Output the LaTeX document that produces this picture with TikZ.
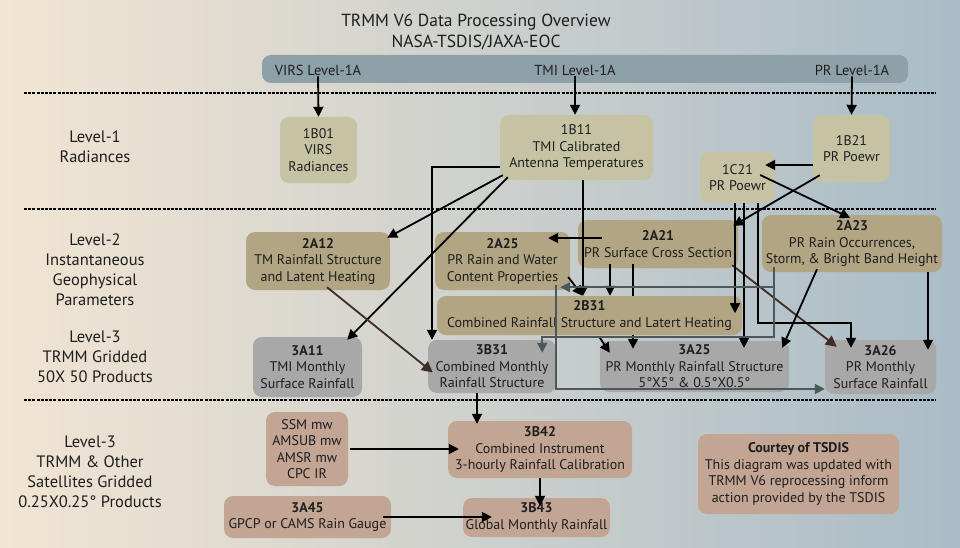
\documentclass[tikz,border=0pt]{standalone}
\usepackage{fontspec}
\setmainfont{PT Sans}
\usetikzlibrary{arrows.meta,calc}
\definecolor{bgL}{HTML}{F2E5D3}
\definecolor{bgR}{HTML}{A9BCC7}
\definecolor{bannerc}{HTML}{8EA1A9}
\definecolor{lvone}{HTML}{C6C3A5}
\definecolor{lvtwo}{HTML}{B2A583}
\definecolor{lvthree}{HTML}{A9A8A8}
\definecolor{lvfour}{HTML}{C3A594}
\definecolor{ink}{HTML}{1E1E1E}
\definecolor{slate}{HTML}{4D585D}
\definecolor{brownline}{HTML}{3E2C26}
\newcommand\boxfont{\fontsize{14}{16.5}\selectfont}
\newcommand\labfont{\fontsize{16.5}{20}\selectfont}
\newcommand\ttlfont{\fontsize{17.5}{21}\selectfont}
\tikzset{
  box/.style={rounded corners=9pt, draw=none, align=center, inner sep=0pt, font=\boxfont, text=ink},
  bone/.style={box, fill=lvone},
  btwo/.style={box, fill=lvtwo},
  bthree/.style={box, fill=lvthree},
  bfour/.style={box, fill=lvfour},
  lab/.style={align=center, font=\labfont, text=ink, inner sep=0pt},
  bantext/.style={font=\fontsize{14.5}{17}\selectfont, text=ink, inner sep=1pt},
  conn/.style={line width=1.8pt, draw=black, -{Triangle[length=10pt,width=10pt]}},
  plainline/.style={line width=1.8pt, draw=black},
  greyconn/.style={line width=1.8pt, draw=slate, -{Triangle[length=10pt,width=10pt]}},
  brownconn/.style={line width=1.8pt, draw=brownline, -{Triangle[length=11pt,width=11pt]}},
  sepline/.style={line width=1.5pt, draw=black, dash pattern=on 3pt off 1.2pt},
}
\begin{document}
\begin{tikzpicture}[x=1pt,y=-1pt]
\useasboundingbox (0,0) rectangle (960,548);
\shade[left color=bgL, right color=bgR] (0,0) rectangle (960,548);

% title
\node[lab, font=\ttlfont] (ttl) at (476,31.5) {TRMM V6 Data Processing Overview\\NASA-TSDIS/JAXA-EOC};

% banner
\node[box, fill=bannerc, minimum width=646pt, minimum height=28pt] (ban) at (585,69) {};
\node[bantext] (tVIRS) at (318,70) {VIRS Level-1A};
\node[bantext] (tTMI) at (575,70) {TMI Level-1A};
\node[bantext] (tPR) at (852,70) {PR Level-1A};

% separators
\draw[sepline] (24,93) -- (936,93);
\draw[sepline] (24,209) -- (936,209);
\draw[sepline] (24,400) -- (936,400);

% level labels
\node[lab] (l1) at (95,147) {Level-1\\Radiances};
\node[lab] (l2) at (95,270) {Level-2\\Instantaneous\\Geophysical\\Parameters};
\node[lab] (l3) at (95,357) {Level-3\\TRMM Gridded\\50X 50 Products};
\node[lab] (l4) at (90,472) {Level-3\\TRMM \& Other\\Satellites Gridded\\0.25X0.25° Products};

% level 1 boxes
\node[bone, minimum width=77pt, minimum height=66pt] (n1B01) at (318.5,150) {1B01\\VIRS\\Radiances};
\node[bone, minimum width=153pt, minimum height=65pt] (n1B11) at (576.5,147.5) {1B11\\TMI Calibrated\\Antenna Temperatures};
\node[bone, minimum width=77pt, minimum height=67pt] (n1B21) at (851.5,148.5) {1B21\\PR Poewr};
\node[bone, minimum width=75pt, minimum height=51pt] (n1C21) at (737.5,177.5) {1C21\\PR Poewr};

% level 2 boxes
\node[btwo, minimum width=144pt, minimum height=58pt] (n2A12) at (318,261) {\textbf{2A12}\\TM Rainfall Structure\\and Latent Heating};
\node[btwo, minimum width=135pt, minimum height=58pt] (n2A25) at (502.5,261) {\textbf{2A25}\\PR Rain and Water\\Content Properties};
\node[btwo, minimum width=160pt, minimum height=48pt] (n2A21) at (658,244) {\textbf{2A21}\\PR Surface Cross Section};
\node[btwo, minimum width=180pt, minimum height=57pt] (n2A23) at (852,243.5) {\textbf{2A23}\\PR Rain Occurrences,\\Storm, \& Bright Band Height};
\node[btwo, minimum width=305pt, minimum height=39pt] (n2B31) at (589.5,315.5) {\textbf{2B31}\\Combined Rainfall Structure and Latert Heating};

% level 3 boxes
\node[bthree, minimum width=109pt, minimum height=60pt] (n3A11) at (307.5,367) {\textbf{3A11}\\TMI Monthly\\Surface Rainfall};
\node[bthree, minimum width=128pt, minimum height=53pt] (n3B31) at (492,366.5) {\textbf{3B31}\\Combined Monthly\\Rainfall Structure};
\node[bthree, minimum width=189pt, minimum height=51pt] (n3A25) at (694.5,366.5) {\textbf{3A25}\\PR Monthly Rainfall Structure\\5°X5° \& 0.5°X0.5°};
\node[bthree, minimum width=111pt, minimum height=54pt] (n3A26) at (880.5,367) {\textbf{3A26}\\PR Monthly\\Surface Rainfall};

% bottom boxes
\node[bfour, minimum width=82pt, minimum height=74pt] (nSSM) at (307,449) {SSM mw\\AMSUB mw\\AMSR mw\\CPC IR};
\node[bfour, minimum width=184pt, minimum height=57pt] (n3B42) at (540,449.5) {\textbf{3B42}\\Combined Instrument\\3-hourly Rainfall Calibration};
\node[bfour, minimum width=167pt, minimum height=42pt] (n3A45) at (307.5,517) {\textbf{3A45}\\GPCP or CAMS Rain Gauge};
\node[bfour, minimum width=147pt, minimum height=39pt] (n3B43) at (536.5,517.5) {\textbf{3B43}\\Global Monthly Rainfall};
\node[bfour, minimum width=201pt, minimum height=80pt] (nCourt) at (798.5,474) {\textbf{Courtey of TSDIS}\\This diagram was updated with\\TRMM V6 reprocessing inform\\action provided by the TSDIS};

% connectors: banner -> level 1
\draw[conn] (tVIRS.south) -- (n1B01.north);
\draw[conn] (tTMI.south) -- (tTMI.south |- n1B11.north);
\draw[conn] (tPR.south) -- (n1B21.north);
\draw[conn] (n1B21.west |- 0,165) -- ($(n1C21.east |- 0,165)+(-10,0)$);

% from 1B11
\draw[conn] (n1B11.west |- 0,167) -| ($(n3B31.north)+(-60,0)$);
\draw[conn] ($(n1B11.south west)+(3,-5)$) -- ($(n2A12.north east)+(-3,6)$);
\draw[conn] ($(n1B11.south west)+(8,-3)$) -- ($(n3A11.north east)+(-15,3)$);
\draw[conn] (583,0 |- n1B11.south) -- (583,0 |- n2B31.north);

% from 2A21
\draw[conn] ($(n2A21.west |- 0,238)+(24,0)$) -- ($(n2A25.east |- 0,238)+(-22,0)$);
\draw[conn] ($(610,0 |- n2A21.south)+(0,-4)$) -- (610,0 |- n2B31.north);
\draw[plainline] ($(633,0 |- n2A21.south)+(0,-4)$) -- (633,0 |- n2B31.north);
\draw[brownconn] ($(n2A21.south east)+(-6,-3)$) -- ($(n3A26.north west)+(12,7)$);

% from 2B31
\draw[conn] (633,0 |- n2B31.south) -- ($(633,0 |- n3A25.north)+(0,8)$);
\draw[conn] ($(n2B31.south)+(10,2)$) -- ($(n3A25.north west)+(10,12)$);

% 2A25 -> 2B31
\draw[conn] ($(n2A25.east)+(-2,16)$) -- ($(n2B31.north)+(-7,0)$);

% from 1C21
\draw[conn] (735,0 |- n1C21.south) -- ($(735,0 |- n2B31.south)+(0,-22)$);
\draw[conn] (744,0 |- n1C21.south) -- ($(744,0 |- n3A25.north)+(0,7)$);
\draw[conn] (758,0 |- n1C21.south) |- ($(n3A26.north)+(-29.5,-17)$) -- ($(n3A26.north)+(-29.5,8)$);
\draw[conn] ($(n1C21.east)+(-15,-2.5)$) -- ($(n2A23.north)+(-2,3)$);

% 1B21 -> 2A21
\draw[conn] ($(n1B21.south west)+(7,-7)$) -- ($(n2A21.north east)+(-5,6)$);

% from 2A23
\draw[conn] ($(n2A23.south)+(-35,-3)$) -- ($(n3A25.north east)+(-7,7)$);
\draw[conn] (928,0 |- n2A23.south) -- ($(928,0 |- n3A26.north)+(0,10)$);
\draw[greyconn] ($(n2A23.south west)+(12,-5)$) |- ($(n2A25.south east)+(-10,-3)$);
\draw[greyconn] ($(n2A23.south west)+(12,-5)$) -- ($(n2A23.south west)+(12,65)$) -| ($(n3B31.north east)+(-14,13)$);

% 2A25 -> 3A26
\draw[greyconn] ($(n2A25.south east)+(-14,-5)$) |- ($(n3A26.west)+(0,22)$);

% 2A12 -> 3B31
\draw[brownconn] ($(n2A12.south)+(9,-3)$) -- ($(n3B31.west)+(5,6)$);

% lower part
\draw[conn] (477,0 |- n3B31.south) -- ($(477,0 |- n3B42.north)+(0,3)$);
\draw[conn] ($(nSSM.east)+(2,0)$) -- ($(nSSM.east -| n3B42.west)+(11,0)$);
\draw[conn] ($(n3A45.east)+(-8,0)$) -- ($(n3A45.east -| n3B43.west)+(29,0)$);
\draw[conn] (540,0 |- n3B42.south) -- ($(540,0 |- n3B43.north)+(0,8)$);
\end{tikzpicture}
\end{document}
